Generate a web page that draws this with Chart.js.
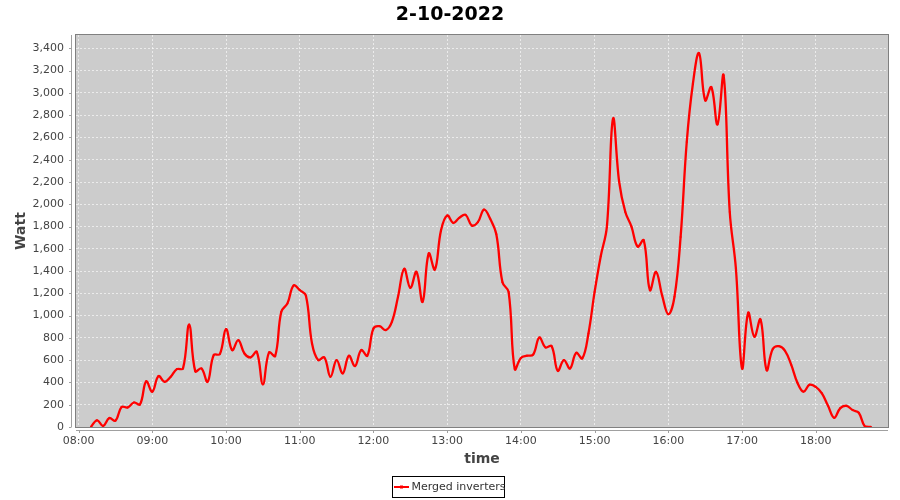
<!DOCTYPE html>
<html><head><meta charset="utf-8">
<script src="https://cdn.jsdelivr.net/npm/chart.js@4.4.0/dist/chart.umd.min.js"></script>
<style>html,body{margin:0;padding:0;background:#fff;}canvas{display:block;}</style>
</head><body>
<canvas id="c" width="900" height="500"></canvas>
<script>
const chartTitle = '2-10-2022';
const seriesName = 'Merged inverters';
const xAxisTitle = 'time';
const yAxisTitle = 'Watt';

const times = [
 '08:10','08:15','08:20','08:25','08:30','08:35','08:40','08:45','08:50','08:55',
 '09:00','09:05','09:10','09:15','09:20','09:25','09:30','09:35','09:40','09:45','09:50','09:55',
 '10:00','10:05','10:10','10:15','10:20','10:25','10:30','10:35','10:40','10:45','10:50','10:55',
 '11:00','11:05','11:10','11:15','11:20','11:25','11:30','11:35','11:40','11:45','11:50','11:55',
 '12:00','12:05','12:10','12:15','12:20','12:25','12:30','12:35','12:40','12:45','12:50','12:55',
 '13:00','13:05','13:10','13:15','13:20','13:25','13:30','13:35','13:40','13:45','13:50','13:55',
 '14:00','14:05','14:10','14:15','14:20','14:25','14:30','14:35','14:40','14:45','14:50','14:55',
 '15:00','15:05','15:10','15:15','15:20','15:25','15:30','15:35','15:40','15:45','15:50','15:55',
 '16:00','16:05','16:10','16:15','16:20','16:25','16:30','16:35','16:40','16:45','16:50','16:55',
 '17:00','17:05','17:10','17:15','17:20','17:25','17:30','17:35','17:40','17:45','17:50','17:55',
 '18:00','18:05','18:10','18:15','18:20','18:25','18:30','18:35','18:40','18:45'
];
const watts = [
 0,60,10,80,57,180,176,220,203,410,
 317,457,406,451,520,526,920,500,526,406,646,655,
 879,690,780,660,625,675,383,670,637,1034,1110,1270,
 1230,1180,750,601,625,451,601,481,640,547,690,640,
 885,905,870,944,1169,1420,1249,1393,1124,1558,1414,1767,
 1900,1832,1880,1905,1810,1840,1952,1870,1730,1300,1213,520,
 620,640,650,804,715,726,505,601,526,666,616,840,
 1213,1534,1800,2769,2200,1930,1800,1620,1677,1229,1393,1180,
 1013,1169,1707,2559,3082,3357,2933,3052,2717,3157,1931,1423,
 526,1025,810,966,511,700,726,684,560,400,317,380,
 360,302,190,83,170,190,152,128,5,0
];
const xTickLabels = ['08:00','09:00','10:00','11:00','12:00','13:00','14:00','15:00','16:00','17:00','18:00'];
const yTickValues = [0,200,400,600,800,1000,1200,1400,1600,1800,2000,2200,2400,2600,2800,3000,3200,3400];

function toMin(s){ const p = s.split(':'); return (+p[0])*60 + (+p[1]); }
function fmtMin(v){ const h = Math.floor(v/60), m = Math.round(v%60); return String(h).padStart(2,'0')+':'+String(m).padStart(2,'0'); }

const points = times.map((t,i)=>({x:toMin(t), y:watts[i]}));

const FONT = 'DejaVu Sans';
const TICK_COLOR = '#444444';

const decor = {
  id:'decor',
  beforeDraw(chart){
    const {ctx, chartArea:a} = chart;
    ctx.save();
    ctx.fillStyle = '#ffffff';
    ctx.fillRect(0,0,chart.width,chart.height);
    ctx.fillStyle = '#cccccc';
    ctx.fillRect(a.left, a.top, a.right-a.left, a.bottom-a.top);
    ctx.restore();
  },
  afterDraw(chart){
    const {ctx, chartArea:a} = chart;
    const xs = chart.scales.x, ys = chart.scales.y;
    ctx.save();
    // title
    ctx.fillStyle = '#000000';
    ctx.font = 'bold 19px "'+FONT+'"';
    ctx.textAlign = 'center'; ctx.textBaseline = 'middle';
    ctx.fillText(chartTitle, 450, 15.5);
    // plot border
    ctx.strokeStyle = '#808080'; ctx.lineWidth = 1;
    ctx.strokeRect(a.left-0.5, a.top-0.5, a.right-a.left+1, a.bottom-a.top+1);
    // axis lines and tick marks
    ctx.strokeStyle = '#a0a0a0';
    ctx.beginPath();
    ctx.moveTo(a.left-4.5, a.top); ctx.lineTo(a.left-4.5, a.bottom);
    ctx.moveTo(a.left, a.bottom+3.5); ctx.lineTo(a.right, a.bottom+3.5);
    ys.ticks.forEach((t,i)=>{ const y = Math.round(ys.getPixelForTick(i))+0.5; ctx.moveTo(a.left-7, y); ctx.lineTo(a.left-4.5, y); });
    xs.ticks.forEach((t,i)=>{ const x = Math.round(xs.getPixelForTick(i))+0.5; ctx.moveTo(x, a.bottom+3.5); ctx.lineTo(x, a.bottom+6); });
    ctx.stroke();
    // legend
    const lx = 392.5, ly = 476.5, lw = 112, lh = 21;
    ctx.strokeStyle = '#000000'; ctx.lineWidth = 1;
    ctx.strokeRect(lx, ly, lw, lh);
    ctx.strokeStyle = '#ff0000'; ctx.lineWidth = 2;
    ctx.beginPath(); ctx.moveTo(394, 487); ctx.lineTo(409, 487); ctx.stroke();
    ctx.fillStyle = '#ff0000'; ctx.fillRect(400, 485.5, 3, 3);
    ctx.fillStyle = '#333333';
    ctx.font = '11px "'+FONT+'"';
    ctx.textBaseline = 'middle'; ctx.textAlign = 'left';
    ctx.fillText(chart.data.datasets[0].label, 411.5, 487.5);
    ctx.restore();
  }
};

new Chart(document.getElementById('c'), {
  type:'line',
  data:{ datasets:[{
    label: seriesName,
    data: points,
    borderColor:'#ff0000',
    backgroundColor:'#ff0000',
    borderWidth:2.3,
    pointRadius:1,
    pointBorderWidth:0,
    pointBackgroundColor:'#ff0000',
    tension:0.4,
    fill:false,
    clip:0
  }]},
  options:{
    responsive:false,
    animation:false,
    devicePixelRatio:1,
    layout:{ padding:{ top:35, left:0, right:12, bottom:27 } },
    plugins:{
      legend:{ display:false },
      tooltip:{ enabled:false },
      title:{ display:false }
    },
    scales:{
      x:{
        type:'linear', min:477.9, max:1138.8,
        afterFit(s){ s.height = 46; },
        afterBuildTicks(s){ s.ticks = xTickLabels.map(l=>({value:toMin(l)})); },
        ticks:{ callback:(v)=>fmtMin(v), color:TICK_COLOR, font:{family:FONT, size:11}, padding:8, maxRotation:0, autoSkip:false },
        grid:{ color:'rgba(255,255,255,0.6)', lineWidth:1, drawTicks:false, borderDash:[2,2] },
        border:{ display:false, dash:[2,2] },
        title:{ display:true, text:xAxisTitle, color:TICK_COLOR, font:{family:FONT, size:14, weight:'bold'}, padding:{top:4, bottom:5} }
      },
      y:{
        type:'linear', min:0, max:3520,
        afterFit(s){ s.width = 76; },
        afterBuildTicks(s){ s.ticks = yTickValues.map(v=>({value:v})); },
        ticks:{ callback:(v)=>v.toLocaleString('en-US'), color:TICK_COLOR, font:{family:FONT, size:11}, padding:12, autoSkip:false },
        grid:{ color:'rgba(255,255,255,0.6)', lineWidth:1, drawTicks:false, borderDash:[2,2] },
        border:{ display:false, dash:[2,2] },
        title:{ display:true, text:yAxisTitle, color:TICK_COLOR, font:{family:FONT, size:14, weight:'bold'}, padding:{top:13, bottom:4} }
      }
    }
  },
  plugins:[decor]
});
</script>
</body></html>
